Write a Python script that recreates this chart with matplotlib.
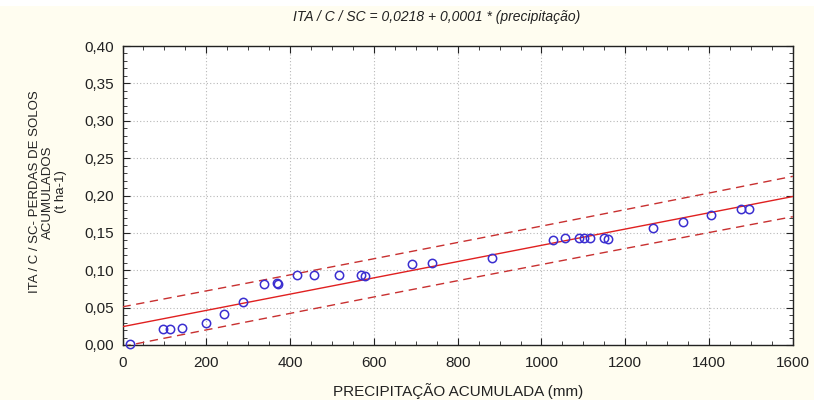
import numpy as np
import matplotlib
matplotlib.use("Agg")
import matplotlib.pyplot as plt
from matplotlib.ticker import MultipleLocator, FuncFormatter
from matplotlib.patches import Rectangle

# Data
precip = [18, 96, 113, 141, 199, 243, 287, 338, 368, 372, 417, 458, 517,
          570, 578, 691, 738, 881, 1028, 1056, 1090, 1102, 1116, 1149, 1159,
          1266, 1338, 1404, 1477, 1496]
perdas = [0.002, 0.021, 0.021, 0.023, 0.030, 0.041, 0.057, 0.082, 0.083, 0.081,
          0.093, 0.093, 0.093, 0.093, 0.092, 0.109, 0.110, 0.117, 0.141, 0.143,
          0.143, 0.143, 0.143, 0.143, 0.142, 0.156, 0.165, 0.174, 0.182, 0.182]

title = "ITA / C / SC = 0,0218 + 0,0001 * (precipitação)"
xlabel = "PRECIPITAÇÃO ACUMULADA (mm)"
ylabel = "ITA / C / SC- PERDAS DE SOLOS\nACUMULADOS\n(t ha-1)"

plt.rcParams['font.family'] = ['Liberation Sans Narrow', 'Liberation Sans', 'DejaVu Sans']

x = np.array(precip, float)
y = np.array(perdas, float)
n = len(x)
b1, b0 = np.polyfit(x, y, 1)
res = y - (b0 + b1 * x)
s = np.sqrt(np.sum(res ** 2) / (n - 2))
tval = 2.048
xx = np.linspace(0, 1600, 200)
yy = b0 + b1 * xx
se = s * np.sqrt(1 + 1 / n + (xx - x.mean()) ** 2 / np.sum((x - x.mean()) ** 2))

fig = plt.figure(figsize=(8.14, 4.0), dpi=100, facecolor='#fffdf0')
# thin white strip at the very top
fig.patches.append(Rectangle((0, 0.985), 1, 0.015, transform=fig.transFigure,
                             facecolor='white', edgecolor='none', zorder=0))
ax = fig.add_axes([0.1505, 0.1375, 0.8235, 0.7475])
ax.set_facecolor('white')

ax.plot(xx, yy, color='#e02020', lw=1.0, zorder=3)
ax.plot(xx, yy + tval * se, color='#c83030', lw=1.0, ls=(0, (6, 4)), zorder=3)
ax.plot(xx, yy - tval * se, color='#c83030', lw=1.0, ls=(0, (6, 4)), zorder=3)
ax.plot(x, y, 'o', mfc='none', mec='#3a2ed0', mew=1.1, ms=6, zorder=4, clip_on=False)

ax.set_xlim(0, 1600)
ax.set_ylim(0, 0.40)
ax.xaxis.set_major_locator(MultipleLocator(200))
ax.xaxis.set_minor_locator(MultipleLocator(50))
ax.yaxis.set_major_locator(MultipleLocator(0.05))
ax.yaxis.set_minor_locator(MultipleLocator(0.01))
ax.yaxis.set_major_formatter(FuncFormatter(lambda v, p: f"{v:.2f}".replace('.', ',')))
ax.tick_params(which='both', direction='in', top=True, right=True, labelsize=11, colors='#222222')
ax.tick_params(which='major', length=5, width=0.8, pad=6)
ax.tick_params(which='minor', length=3, width=0.6)
ax.tick_params(axis='x', which='major', pad=8)
ax.grid(True, which='major', color='#b8b8b8', ls=(0, (1, 2)), lw=0.8)
for sp in ax.spines.values():
    sp.set_color('#222222')
    sp.set_linewidth(1.0)

fig.text(437 / 814, 1 - 17 / 400, title, fontsize=10, style='italic', color='#222222',
         ha='center', va='center')
ax.set_xlabel(xlabel, fontsize=11, color='#222222', labelpad=9)
fig.text(0.059, 0.52, ylabel, rotation=90, ha='center', va='center',
         fontsize=9.5, color='#222222', linespacing=1.15)

fig.savefig('out.png', dpi=100, facecolor=fig.get_facecolor())
